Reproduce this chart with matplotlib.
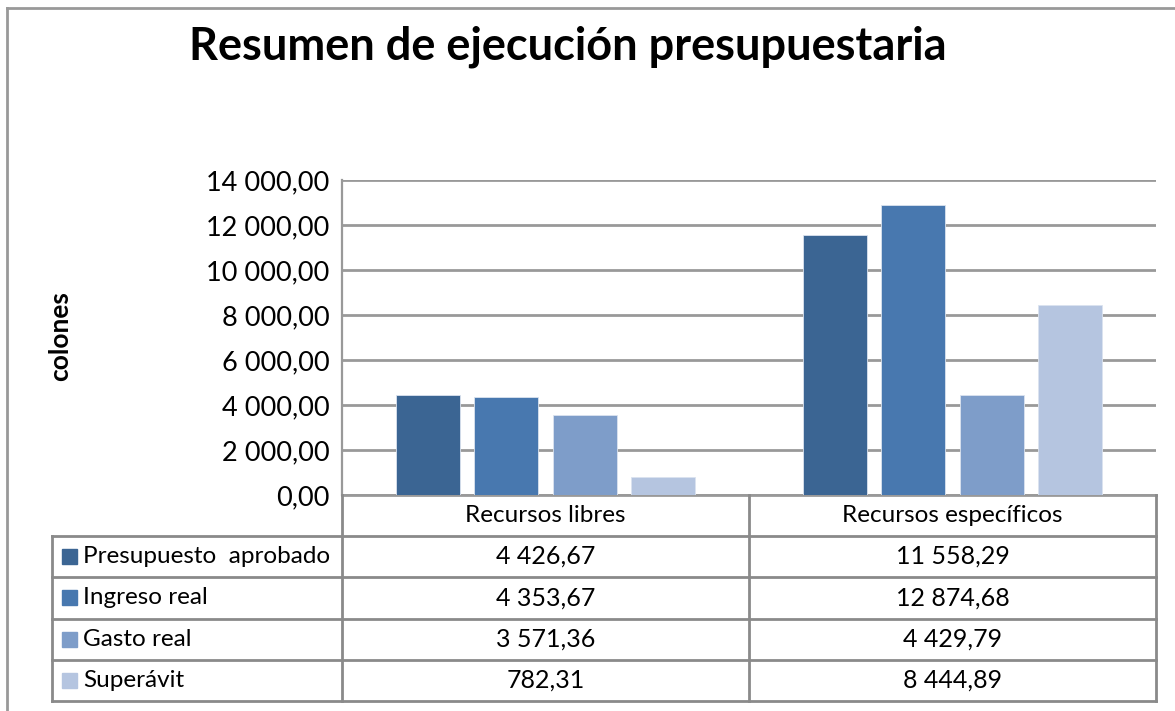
import matplotlib.pyplot as plt
from matplotlib.lines import Line2D
from matplotlib.patches import Rectangle

# data
categories = ['Recursos libres', 'Recursos específicos']
series = ['Presupuesto  aprobado', 'Ingreso real', 'Gasto real', 'Superávit']
presupuesto = [4426.67, 11558.29]
ingreso = [4353.67, 12874.68]
gasto = [3571.36, 4429.79]
superavit = [782.31, 8444.89]
values = [presupuesto, ingreso, gasto, superavit]
colors = ['#3b6593', '#4878af', '#7e9dc9', '#b5c5e0']
yticks = [0, 2000, 4000, 6000, 8000, 10000, 12000, 14000]

W, H = 1175, 711


def fx(px):
    return px / W


def fy(py):
    return 1 - py / H


def fmt(v):
    return f'{v:,.2f}'.replace(',', ' ').replace('.', ',')


plt.rcParams['font.family'] = ['Lato', 'DejaVu Sans']
fig = plt.figure(figsize=(W / 100, H / 100), dpi=100)

left, right, top, bottom = 342, 1156, 180, 495
ax = fig.add_axes([fx(left), fy(bottom), fx(right - left), (bottom - top) / H])

step = 0.193
width = 0.157
for i, vals in enumerate(values):
    xs = [g + (i - 1.5) * step for g in range(len(categories))]
    ax.bar(xs, vals, width, color=colors[i], edgecolor='#dbe3ef', linewidth=0.6, zorder=3)

ax.set_xlim(-0.5, 1.5)
ax.set_ylim(0, 14000)
ax.set_yticks(yticks)
ax.set_yticklabels([fmt(t) for t in yticks], fontsize=19.5)
ax.set_xticks([])
ax.tick_params(axis='y', length=0, pad=9)
ax.yaxis.grid(True, color='#999999', linewidth=2, zorder=0)
for s in ['top', 'right']:
    ax.spines[s].set_visible(False)
ax.spines['left'].set_color('#999999')
ax.spines['left'].set_linewidth(1.6)
ax.spines['bottom'].set_color('#999999')
ax.spines['bottom'].set_linewidth(2)

fig.text(fx(60), fy(336), 'colones', rotation=90, ha='center', va='center',
         fontsize=19, fontweight='bold')
fig.text(fx(568), fy(47), 'Resumen de ejecución presupuestaria', ha='center', va='center',
         fontsize=32.5, fontweight='bold')

# data table below the chart
lc = '#8a8a8a'
col_x = [52, 342, 749, 1156]
row_y = [495, 536, 577, 619, 660, 701]


def hline(y, x0, x1):
    fig.add_artist(Line2D([fx(x0), fx(x1)], [fy(y), fy(y)], color=lc, lw=2))


def vline(x, y0, y1):
    fig.add_artist(Line2D([fx(x), fx(x)], [fy(y0), fy(y1)], color=lc, lw=2))


for y in row_y[1:]:
    hline(y, col_x[0], col_x[-1])
vline(col_x[0], row_y[1], row_y[-1])
for x in col_x[1:]:
    vline(x, row_y[0], row_y[-1])

for j, cat in enumerate(categories):
    cx = (col_x[j + 1] + col_x[j + 2]) / 2
    fig.text(fx(cx), fy((row_y[0] + row_y[1]) / 2), cat, ha='center', va='center', fontsize=17.5)

for i, name in enumerate(series):
    cy = (row_y[i + 1] + row_y[i + 2]) / 2
    fig.add_artist(Rectangle((fx(62), fy(cy + 7)), fx(15), 15 / H, color=colors[i]))
    fig.text(fx(83), fy(cy), name, ha='left', va='center', fontsize=17.5)
    for j in range(len(categories)):
        cx = (col_x[j + 1] + col_x[j + 2]) / 2
        fig.text(fx(cx), fy(cy), fmt(values[i][j]), ha='center', va='center', fontsize=18)

# chart frame
fig.add_artist(Line2D([fx(7), fx(7)], [fy(8), fy(711)], color='#999999', lw=2))
fig.add_artist(Line2D([fx(7), fx(1175)], [fy(8), fy(8)], color='#999999', lw=2))

fig.savefig('out.png', dpi=100)
